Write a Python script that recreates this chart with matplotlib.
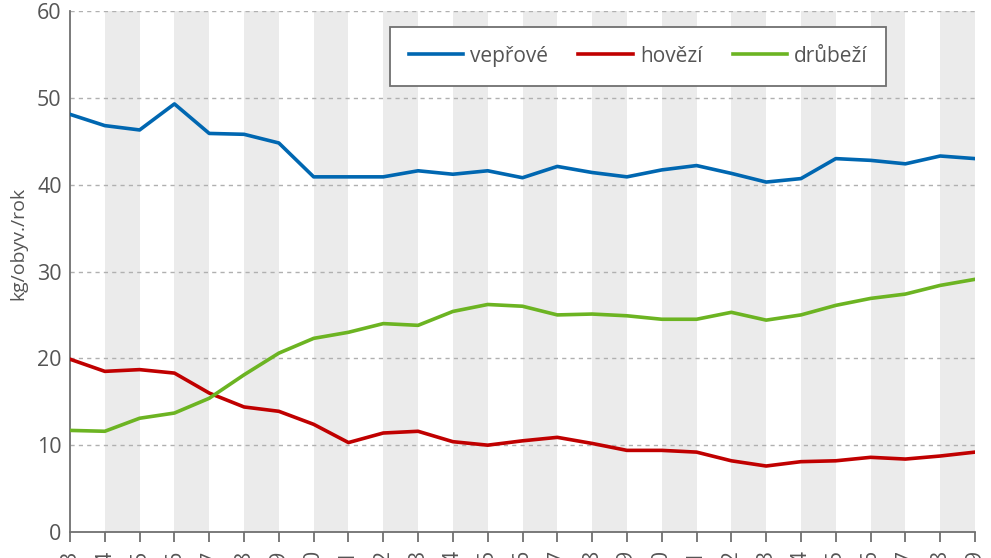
import matplotlib
matplotlib.use("Agg")
import matplotlib.pyplot as plt

years = list(range(1993, 2020))
year_labels = [str(y) for y in years]
veprove = [48.1, 46.8, 46.3, 49.3, 45.9, 45.8, 44.8, 40.9, 40.9, 40.9, 41.6, 41.2, 41.6, 40.8,
           42.1, 41.4, 40.9, 41.7, 42.2, 41.3, 40.3, 40.7, 43.0, 42.8, 42.4, 43.3, 43.0]
hovezi = [19.9, 18.5, 18.7, 18.3, 16.0, 14.4, 13.9, 12.4, 10.3, 11.4, 11.6, 10.4, 10.0, 10.5,
          10.9, 10.2, 9.4, 9.4, 9.2, 8.2, 7.6, 8.1, 8.2, 8.6, 8.4, 8.75, 9.2]
drubezi = [11.7, 11.6, 13.1, 13.7, 15.4, 18.1, 20.6, 22.3, 23.0, 24.0, 23.8, 25.4, 26.2, 26.0,
           25.0, 25.1, 24.9, 24.5, 24.5, 25.3, 24.4, 25.0, 26.1, 26.9, 27.4, 28.4, 29.1]
series_names = ["vepřové", "hovězí", "drůbeží"]
yticks = [0, 10, 20, 30, 40, 50, 60]

plt.rcParams['font.family'] = ['Open Sans', 'DejaVu Sans']

fig = plt.figure(figsize=(9.91, 5.58), dpi=100)
ax = fig.add_axes([70/991, 1-532/558, (975-70)/991, (532-11)/558])

# alternating stripes
for i in range(len(years) - 1):
    if i % 2 == 1:
        ax.axvspan(years[i], years[i+1], color='#ebebeb', lw=0, zorder=0)

for y in yticks[1:]:
    ax.axhline(y, color='#b0b0b0', lw=1, ls=(0, (3, 3)), zorder=1)

ax.plot(years, veprove, color='#0067b1', lw=2.6, label=series_names[0], zorder=3, solid_joinstyle='round')
ax.plot(years, hovezi, color='#c00000', lw=2.6, label=series_names[1], zorder=3, solid_joinstyle='round')
ax.plot(years, drubezi, color='#6cb422', lw=2.6, label=series_names[2], zorder=3, solid_joinstyle='round')

ax.set_xlim(years[0], years[-1])
ax.set_ylim(0, 60)
ax.set_yticks(yticks)
ax.set_xticks(years)
ax.set_xticklabels(year_labels, rotation=90, va='top')

for s in ['top', 'right']:
    ax.spines[s].set_visible(False)
for s in ['left', 'bottom']:
    ax.spines[s].set_color('#707070')
    ax.spines[s].set_linewidth(1.3)

ax.tick_params(axis='y', length=0, pad=6, labelsize=15.5, labelcolor='#555555')
ax.tick_params(axis='x', length=7, width=1.3, color='#707070', pad=6, labelsize=15.5, labelcolor='#555555')
ax.set_ylabel('kg/obyv./rok', fontsize=14, color='#555555')
ax.yaxis.set_label_coords(-0.047, 0.553)
ax.set_facecolor('white')

leg = ax.legend(loc='upper left', bbox_to_anchor=(390/991, 1-27/558), bbox_transform=fig.transFigure,
                ncol=3, fontsize=15, frameon=True, fancybox=False, edgecolor='#707070',
                handlelength=2.6, handletextpad=0.35, columnspacing=1.45, borderpad=0.9,
                borderaxespad=0, labelcolor='#555555')
leg.get_frame().set_linewidth(1.3)
leg.get_frame().set_facecolor('white')
leg.get_frame().set_alpha(1)

fig.savefig('out.png', dpi=100)
